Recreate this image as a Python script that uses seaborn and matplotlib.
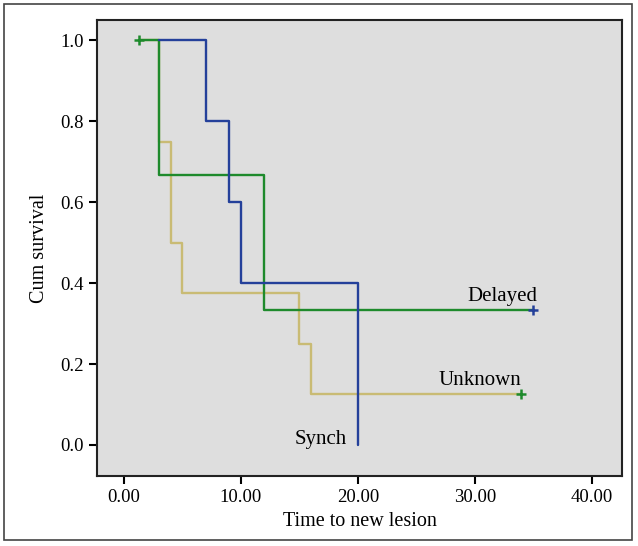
import matplotlib
matplotlib.use("Agg")
import matplotlib.pyplot as plt
import matplotlib.patches as mpatches
import pandas as pd
import seaborn as sns

# Kaplan-Meier step values
synch_time = [3, 7, 9, 10, 20]
synch_surv = [1.0, 0.8, 0.6, 0.4, 0.0]

delayed_time = [1.3, 3, 12, 35]
delayed_surv = [1.0, 0.667, 0.333, 0.333]

unknown_time = [1.3, 3, 4, 5, 15, 16, 34]
unknown_surv = [1.0, 0.75, 0.5, 0.375, 0.25, 0.125, 0.125]

# censored observations
censor_time = [1.3, 35, 34]
censor_surv = [1.0, 0.333, 0.125]
censor_color = ["#1e8a2c", "#24409a", "#1e8a2c"]

x_ticks = [0, 10, 20, 30, 40]
y_ticks = [0.0, 0.2, 0.4, 0.6, 0.8, 1.0]

colors = {"Unknown": "#c9bb74", "Delayed": "#1e8a2c", "Synch": "#24409a"}


def main():
    sns.set_style("ticks", {"axes.facecolor": "#dedede", "text.color": "black",
                            "axes.labelcolor": "black", "xtick.color": "black",
                            "ytick.color": "black"})
    plt.rcParams["font.family"] = ["Liberation Serif", "DejaVu Serif"]

    df = pd.concat([
        pd.DataFrame({"time": unknown_time, "surv": unknown_surv, "group": "Unknown"}),
        pd.DataFrame({"time": delayed_time, "surv": delayed_surv, "group": "Delayed"}),
        pd.DataFrame({"time": synch_time, "surv": synch_surv, "group": "Synch"}),
    ])
    cens = pd.DataFrame({"time": censor_time, "surv": censor_surv, "c": censor_color})

    fig = plt.figure(figsize=(6.38, 5.46), dpi=100)
    ax = fig.add_axes([0.152, 0.128, 0.823, 0.835])

    for grp in ["Unknown", "Delayed", "Synch"]:
        sns.lineplot(data=df[df.group == grp], x="time", y="surv", color=colors[grp],
                     drawstyle="steps-post", estimator=None, sort=True, lw=1.7, ax=ax)

    for _, row in cens.iterrows():
        ax.plot(row.time, row.surv, marker="+", color=row.c, markersize=7, mew=1.8)

    ax.text(35.4, 0.343, "Delayed", ha="right", va="bottom", fontsize=15)
    ax.text(34.0, 0.135, "Unknown", ha="right", va="bottom", fontsize=15)
    ax.text(19.1, -0.01, "Synch", ha="right", va="bottom", fontsize=15)

    ax.set_xlim(-2.3, 42.6)
    ax.set_ylim(-0.077, 1.05)
    ax.set_xticks(x_ticks)
    ax.set_xticklabels([f"{v:.2f}" for v in x_ticks], fontsize=13.5)
    ax.set_yticks(y_ticks)
    ax.set_yticklabels([f"{v:.1f}" for v in y_ticks], fontsize=13.5)
    ax.tick_params(direction="out", length=6, width=1.5, color="black")
    ax.set_xlabel("Time to new lesion", fontsize=14.5, labelpad=4)
    ax.set_ylabel("Cum survival", fontsize=14.5, labelpad=8)
    for s in ax.spines.values():
        s.set_visible(True)
        s.set_linewidth(1.5)
        s.set_color("#222222")

    fig.patches.append(mpatches.Rectangle((4 / 638, 6 / 546), 628 / 638, 536 / 546,
                                          transform=fig.transFigure, fill=False,
                                          edgecolor="#444444", lw=1.2))

    fig.savefig("out.png", dpi=100)


if __name__ == "__main__":
    main()
